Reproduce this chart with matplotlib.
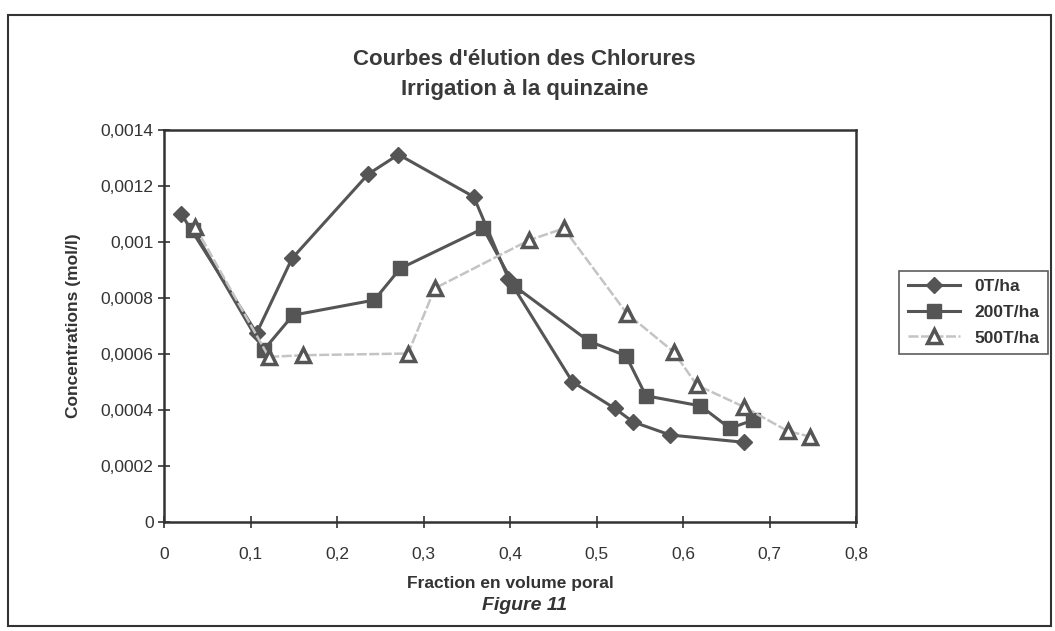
import matplotlib.pyplot as plt
from matplotlib.ticker import FuncFormatter
from matplotlib.patches import Rectangle

# 0T/ha
x0 = [0.020, 0.107, 0.148, 0.236, 0.271, 0.358, 0.398, 0.472, 0.521, 0.542, 0.585, 0.670]
y0 = [0.00110, 0.000675, 0.000942, 0.001243, 0.001313, 0.001162, 0.00087, 0.000501,
      0.000406, 0.000358, 0.000311, 0.000285]

# 200T/ha
x200 = [0.034, 0.115, 0.149, 0.243, 0.273, 0.369, 0.405, 0.491, 0.534, 0.557, 0.620, 0.654, 0.681]
y200 = [0.001043, 0.000614, 0.000739, 0.000793, 0.000906, 0.001049, 0.000843, 0.000646,
        0.000594, 0.000451, 0.000415, 0.000335, 0.000364]

# 500T/ha
x500 = [0.036, 0.121, 0.161, 0.282, 0.313, 0.422, 0.462, 0.535, 0.589, 0.616, 0.670, 0.721, 0.747]
y500 = [0.001055, 0.000590, 0.000596, 0.000602, 0.000835, 0.001007, 0.001049, 0.000745,
        0.000608, 0.000489, 0.000412, 0.000325, 0.000305]

plt.rcParams['font.family'] = ['Liberation Sans', 'DejaVu Sans']
dark = '#555555'
light = '#c4c4c4'

fig = plt.figure(figsize=(10.55, 6.31), dpi=100)
ax = fig.add_axes([0.1555, 0.1727, 0.656, 0.621])

ax.plot(x0, y0, color=dark, lw=2.2, marker='D', ms=8, mfc=dark, mec=dark, label='0T/ha')
ax.plot(x200, y200, color=dark, lw=2.2, marker='s', ms=10, mfc=dark, mec=dark, label='200T/ha')
ax.plot(x500, y500, color=light, lw=1.8, ls=(0, (4, 1)), marker='^', ms=10, mfc='white',
        mec=dark, mew=2.5, label='500T/ha')

ax.set_xlim(0, 0.8)
ax.set_ylim(0, 0.0014)
ax.set_xticks([0, 0.1, 0.2, 0.3, 0.4, 0.5, 0.6, 0.7, 0.8])
ax.set_yticks([0, 0.0002, 0.0004, 0.0006, 0.0008, 0.001, 0.0012, 0.0014])
ax.xaxis.set_major_formatter(FuncFormatter(lambda v, p: ('%g' % round(v, 1)).replace('.', ',')))
ax.yaxis.set_major_formatter(FuncFormatter(lambda v, p: ('%g' % round(v, 4)).replace('.', ',')))
ax.tick_params(direction='inout', length=8, width=1.2, color='#333333', labelsize=12.5,
               labelcolor='#333333')
ax.tick_params(axis='x', pad=14)
for s in ax.spines.values():
    s.set_linewidth(1.8)
    s.set_color('#333333')

ax.set_xlabel('Fraction en volume poral', fontsize=12.5, fontweight='bold', color='#333333',
              labelpad=10)
ax.set_ylabel('Concentrations (mol/l)', fontsize=12.5, fontweight='bold', color='#333333',
              labelpad=14)
fig.text(0.497, 0.905, "Courbes d'élution des Chlorures", ha='center', va='center',
         fontsize=16, fontweight='bold', color='#3a3a3a')
fig.text(0.497, 0.858, "Irrigation à la quinzaine", ha='center', va='center',
         fontsize=16, fontweight='bold', color='#3a3a3a')
fig.text(0.497, 0.041, 'Figure 11', ha='center', va='center', fontsize=14,
         fontweight='bold', style='italic', color='#333333')

leg = ax.legend(loc='center left', bbox_to_anchor=(1.05, 0.535), frameon=True, fancybox=False,
                fontsize=12.5, handlelength=3, borderpad=0.5, labelspacing=0.6)
leg.get_frame().set_edgecolor('#333333')
leg.get_frame().set_linewidth(1.2)
for t in leg.get_texts():
    t.set_fontweight('bold')
    t.set_color('#333333')

fig.patches.append(Rectangle((0.008, 0.008), 0.988, 0.968, transform=fig.transFigure,
                             fill=False, lw=1.5, ec='#333333'))

fig.savefig('out.png', dpi=100)
